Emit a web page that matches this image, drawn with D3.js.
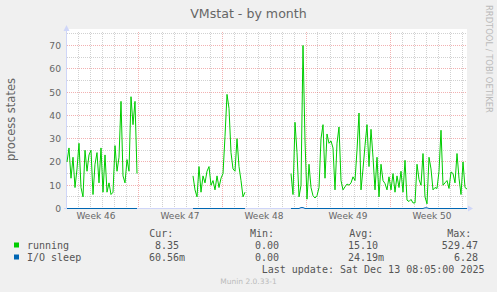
<!DOCTYPE html>
<html lang="en">
<head>
  <meta charset="UTF-8">
  <title>VMstat - by month</title>
  <script src="https://d3js.org/d3.v7.min.js"></script>
  <style>
    body { margin: 0; background: #f0f0f0; }
    svg { display: block; }
    text { font-family: "DejaVu Sans", sans-serif; fill: #666; }
    .mono { font-family: "DejaVu Sans Mono", monospace; font-size: 10px; fill: #555; }
  </style>
</head>
<body>
  <svg id="chart" width="497" height="292"></svg>

  <script>
    // samples every 4 hours, first one at Tue 11 Nov 2025 02:00 UTC
    const seriesStart = Date.UTC(2025, 10, 11, 2);
    const stepHours = 4;
    const _ = null; // no data

    const running = [
      20, 26, 13, 22, 9, 17, 28, 9, 5, 25, 16, 23, 25, 6, 19, 24, 11, 26, 7, 23,
      7, 11, 6, 7, 27, 16, 22, 46, 14, 11, 21, 16, 48, 36, 46, 15,
      _, _, _, _, _, _, _, _, _, _, _, _, _, _, _, _, _, _, _, _, _, _, _, _, _, _, _,
      14, 8, 5, 18, 7, 14, 11, 16, 18, 10, 12, 8, 14, 9, 13, 15, 31, 49, 43, 24,
      17, 16, 30, 18, 12, 5, 7,
      _, _, _, _, _, _, _, _, _, _, _, _, _, _, _, _, _, _, _, _, _, _,
      15, 6, 37, 24, 5, 10, 70, 29, 4, 19,
      9, 5.5, 4.5, 5.5, 9, 30, 36, 13, 32, 28,
      29, 26, 8, 28, 35, 12, 8, 9.3, 10.5, 10,
      11, 13.6, 12, 25, 41, 8, 17, 27, 36, 18,
      34, 22, 8, 22, 5, 19, 12, 10.7, 8, 13.6,
      8, 15, 7, 14, 9, 16, 7, 20.7, 3.6, 3,
      3.9, 2.4, 2.4, 19, 12.5, 10, 23.6, 5, 2, 22,
      17, 8, 9, 8.6, 16, 33.6, 10, 11, 12, 8.6,
      15.7, 15, 11, 23.6, 13, 6, 20, 9, 8.35
    ];

    const ioSleep = [
      0, 0, 0, 0, 0, 0, 0, 0, 0, 0, 0, 0, 0, 0, 0, 0, 0, 0, 0, 0,
      0, 0, 0, 0, 0, 0, 0, 0, 0, 0, 0, 0, 0, 0, 0, 0,
      _, _, _, _, _, _, _, _, _, _, _, _, _, _, _, _, _, _, _, _, _, _, _, _, _, _, _,
      0, 0, 0, 0, 0, 0, 0, 0, 0, 0, 0, 0, 0, 0, 0, 0, 0, 0, 0, 0,
      0, 0, 0, 0, 0, 0, 0,
      _, _, _, _, _, _, _, _, _, _, _, _, _, _, _, _, _, _, _, _, _, _,
      0, 0, 0, 0, 0, 0.4, 0.4, 0, 0, 0,
      0, 0, 0, 0, 0, 0, 0, 0, 0, 0,
      0, 0, 0, 0, 0, 0, 0, 0, 0, 0,
      0, 0, 0, 0, 0, 0, 0, 0, 0, 0,
      0, 0, 0, 0, 0, 0, 0, 0, 0, 0,
      0, 0, 0, 0, 0, 0, 0, 0, 0, 0,
      0, 0, 0, 0, 0, 0, 0, 0.3, 0.3, 0,
      0, 0, 0, 0, 0, 0, 0, 0, 0, 0,
      0, 0, 0, 0, 0, 0, 0, 0, 0
    ];

    const yTicks = [0, 10, 20, 30, 40, 50, 60, 70];
    const weekLabels = ["Week 46", "Week 47", "Week 48", "Week 49", "Week 50"];
    const weekStarts = ["2025-11-10", "2025-11-17", "2025-11-24", "2025-12-01", "2025-12-08"];

    const legendNames = ["running", "I/O sleep"];
    const legendColors = ["#00cc00", "#0066b3"];
    const legendCur = ["8.35", "60.56m"];
    const legendMin = ["0.00", "0.00"];
    const legendAvg = ["15.10", "24.19m"];
    const legendMax = ["529.47", "6.28"];

    const svg = d3.select("#chart");
    const plotLeft = 67, plotRight = 467, plotTop = 29, plotBottom = 208.5;

    const x = d3.scaleUtc()
      .domain([new Date(seriesStart), new Date(seriesStart + 800 * 3600e3)])
      .range([plotLeft, plotRight]);
    const y = d3.scaleLinear().domain([0, 76.6]).range([plotBottom, 30.1]);
    const crisp = v => Math.round(v - 0.5) + 0.5;

    // canvas
    svg.append("rect")
      .attr("x", plotLeft).attr("y", plotTop)
      .attr("width", plotRight - plotLeft).attr("height", plotBottom - plotTop)
      .attr("fill", "#fff");

    // grid
    const minorColor = "rgba(140,140,140,0.4)";
    const majorColor = "rgba(225,70,70,0.42)";
    const grid = svg.append("g").attr("stroke-dasharray", "1,1").attr("stroke-width", 1);
    const minorY = d3.range(5, 76, 10);
    grid.selectAll(".hmin").data(minorY).join("line")
      .attr("x1", plotLeft).attr("x2", plotRight)
      .attr("y1", d => crisp(y(d))).attr("y2", d => crisp(y(d)))
      .attr("stroke", minorColor);

    const days = d3.utcDay.range(new Date(seriesStart), x.domain()[1])
      .filter(d => d.getUTCDay() !== 1);
    grid.selectAll(".vmin").data(days).join("line")
      .attr("x1", d => crisp(x(d))).attr("x2", d => crisp(x(d)))
      .attr("y1", plotTop + 3).attr("y2", plotBottom)
      .attr("stroke", minorColor);

    grid.selectAll(".hmaj").data(yTicks.slice(1)).join("line")
      .attr("x1", plotLeft).attr("x2", plotRight)
      .attr("y1", d => crisp(y(d))).attr("y2", d => crisp(y(d)))
      .attr("stroke", majorColor);

    const weeks = weekStarts.map(d => new Date(d + "T00:00:00Z")).filter(d => x(d) > plotLeft);
    grid.selectAll(".vmaj").data(weeks).join("line")
      .attr("x1", d => crisp(x(d))).attr("x2", d => crisp(x(d)))
      .attr("y1", plotTop + 3).attr("y2", plotBottom)
      .attr("stroke", majorColor);

    // axes
    svg.append("line").attr("x1", 66.5).attr("x2", 66.5).attr("y1", plotBottom).attr("y2", 28)
      .attr("stroke", "#cfd6f8");
    svg.append("path").attr("d", "M63.5,31L69.5,31L66.5,25Z").attr("fill", "#cfd6f8");
    svg.append("line").attr("x1", 64).attr("x2", 469).attr("y1", plotBottom).attr("y2", plotBottom)
      .attr("stroke", "#cfd6f8");
    svg.append("path").attr("d", "M468,205.5L468,211.5L473,208.5Z").attr("fill", "#cfd6f8");

    // series
    const line = d3.line()
      .defined(d => d.v != null)
      .x(d => x(d.t))
      .y(d => y(d.v));
    const toPoints = arr => arr.map((v, i) => ({ t: new Date(seriesStart + i * stepHours * 3600e3), v }));

    svg.append("path").datum(toPoints(running))
      .attr("d", line).attr("fill", "none")
      .attr("stroke", legendColors[0]).attr("stroke-width", 1);
    svg.append("path").datum(toPoints(ioSleep))
      .attr("d", line).attr("fill", "none")
      .attr("stroke", legendColors[1]).attr("stroke-width", 1);

    // y tick labels
    svg.selectAll(".ytick").data(yTicks).join("text")
      .attr("x", 61).attr("y", d => y(d) + 3.5)
      .attr("text-anchor", "end").style("font-size", "9.2px")
      .text(d => d);

    // week labels
    svg.selectAll(".xtick").data(weekLabels).join("text")
      .attr("x", (d, i) => x(new Date(new Date(weekStarts[i] + "T00:00:00Z").getTime() + 84 * 3600e3)))
      .attr("y", 219).attr("text-anchor", "middle").style("font-size", "9px")
      .text(d => d);

    // title and side texts
    svg.append("text").attr("x", 248.5).attr("y", 18).attr("text-anchor", "middle")
      .style("font-size", "12.6px").text("VMstat - by month");
    svg.append("text").attr("transform", "translate(15,119.5) rotate(-90)")
      .attr("text-anchor", "middle").style("font-size", "11.5px").text("process states");
    svg.append("text").attr("transform", "translate(486,5) rotate(90)")
      .style("font-size", "8.4px").style("fill", "#bbb").text("RRDTOOL / TOBI OETIKER");

    // legend
    const headers = [["Cur:", 149.3], ["Min:", 250], ["Avg:", 349.3], ["Max:", 447.3]];
    svg.selectAll(".hdr").data(headers).join("text")
      .attr("class", "mono").attr("x", d => d[1]).attr("y", 237).text(d => d[0]);

    legendNames.forEach((name, i) => {
      const yy = 249 + i * 12;
      svg.append("rect").attr("x", 14).attr("y", yy - 6.5).attr("width", 5).attr("height", 5)
        .attr("fill", legendColors[i]);
      svg.append("text").attr("class", "mono").attr("x", 27).attr("y", yy).text(name);
      const cols = [[legendCur[i], 185], [legendMin[i], 285], [legendAvg[i], 384], [legendMax[i], 484]];
      cols.forEach(([s, endX]) => {
        const txt = s.endsWith("m") ? s : s + " ";
        svg.append("text").attr("class", "mono").attr("x", endX).attr("y", yy)
          .attr("text-anchor", "end").style("white-space", "pre").attr("xml:space", "preserve")
          .text(txt);
      });
    });

    svg.append("text").attr("class", "mono").attr("x", 261.7).attr("y", 273)
      .text("Last update: Sat Dec 13 08:05:00 2025");
    svg.append("text").attr("x", 248.5).attr("y", 284).attr("text-anchor", "middle")
      .style("font-size", "7.5px").style("fill", "#bbb").text("Munin 2.0.33-1");
  </script>
</body>
</html>
